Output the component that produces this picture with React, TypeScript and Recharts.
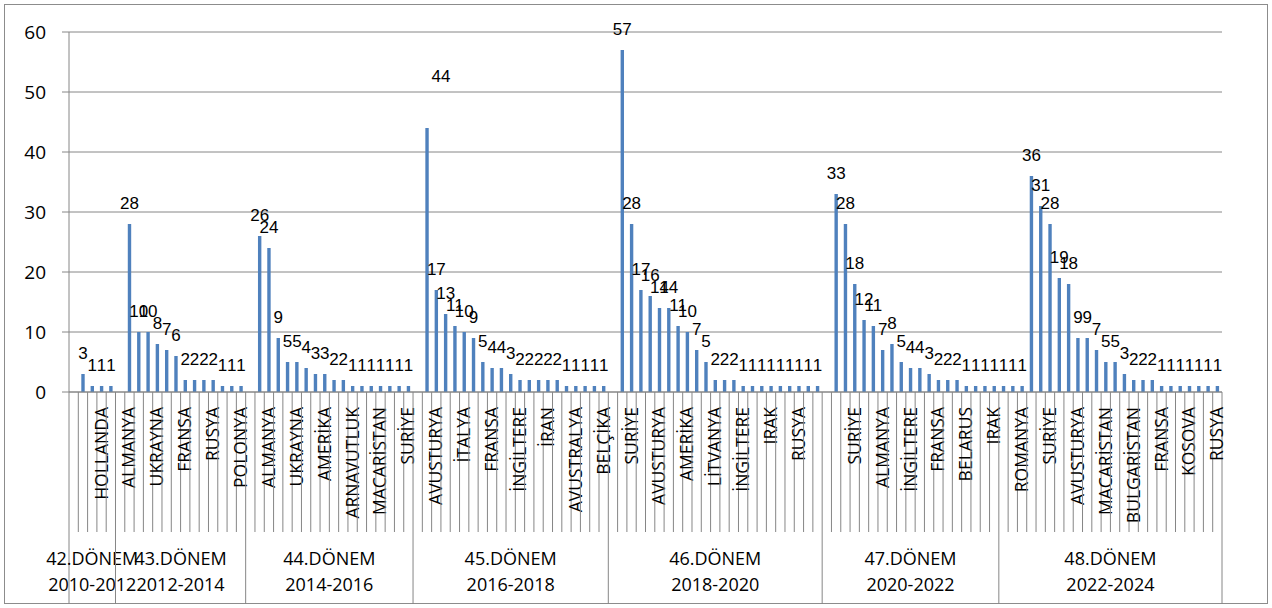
import React from "react";
import { BarChart, Bar, XAxis, YAxis, CartesianGrid, LabelList } from "recharts";

// dönem başlıkları (alt seviye eksen)
const periods = ["42.DÖNEM", "43.DÖNEM", "44.DÖNEM", "45.DÖNEM", "46.DÖNEM", "47.DÖNEM", "48.DÖNEM"];
const terms = ["2010-2012", "2012-2014", "2014-2016", "2016-2018", "2018-2020", "2020-2022", "2022-2024"];

// her dönemin değerleri (null = boş kategori)
const values42 = [null, 3, 1, 1, 1];
const values43 = [null, 28, 10, 10, 8, 7, 6, 2, 2, 2, 2, 1, 1, 1];
const values44 = [null, 26, 24, 9, 5, 5, 4, 3, 3, 2, 2, 1, 1, 1, 1, 1, 1, 1];
const values45 = [null, 44, 17, 13, 11, 10, 9, 5, 4, 4, 3, 2, 2, 2, 2, 2, 1, 1, 1, 1, 1];
const values46 = [null, 57, 28, 17, 16, 14, 14, 11, 10, 7, 5, 2, 2, 2, 1, 1, 1, 1, 1, 1, 1, 1, 1];
const values47 = [null, 33, 28, 18, 12, 11, 7, 8, 5, 4, 4, 3, 2, 2, 2, 1, 1, 1, 1];
const values48 = [1, 1, 1, 36, 31, 28, 19, 18, 9, 9, 7, 5, 5, 3, 2, 2, 2, 1, 1, 1, 1, 1, 1, 1];

// görünen ülke etiketleri (boş = etiket yok)
const names42 = ["", "", "", "HOLLANDA", ""];
const names43 = ["", "ALMANYA", "", "", "UKRAYNA", "", "", "FRANSA", "", "", "RUSYA", "", "", "POLONYA"];
const names44 = ["", "", "ALMANYA", "", "", "UKRAYNA", "", "", "AMERİKA", "", "", "ARNAVUTLUK", "", "", "MACARİSTAN", "", "", "SURİYE"];
const names45 = ["", "", "AVUSTURYA", "", "", "İTALYA", "", "", "FRANSA", "", "", "İNGİLTERE", "", "", "İRAN", "", "", "AVUSTRALYA", "", "", "BELÇİKA"];
const names46 = ["", "", "SURİYE", "", "", "AVUSTURYA", "", "", "AMERİKA", "", "", "LİTVANYA", "", "", "İNGİLTERE", "", "", "IRAK", "", "", "RUSYA", "", ""];
const names47 = ["", "", "", "SURİYE", "", "", "ALMANYA", "", "", "İNGİLTERE", "", "", "FRANSA", "", "", "BELARUS", "", "", "IRAK"];
const names48 = ["", "", "ROMANYA", "", "", "SURİYE", "", "", "AVUSTURYA", "", "", "MACARİSTAN", "", "", "BULGARİSTAN", "", "", "FRANSA", "", "", "KOSOVA", "", "", "RUSYA"];

const yTicks = [0, 10, 20, 30, 40, 50, 60];

const groupValues = [values42, values43, values44, values45, values46, values47, values48];
const groupNames = [names42, names43, names44, names45, names46, names47, names48];

const chartData = groupValues.flatMap((vals, g) =>
  vals.map((v, i) => ({ value: v, name: groupNames[g][i], group: g, pos: i, len: vals.length }))
).map((d, idx) => ({ ...d, idx }));

const CHART_W = 1272;
const CHART_H = 608;
const MARGIN = { top: 32, right: 50, bottom: 0, left: 0 };
const Y_W = 69;
const X_H = 216;
const PLOT_W = CHART_W - MARGIN.left - MARGIN.right - Y_W;
const BAND = PLOT_W / chartData.length;

const LINE = "#868686";
const FONT = "'Open Sans', sans-serif";

// elle kaydırılmış veri etiketi (45.DÖNEM, ilk çubuk)
const labelShift = (group: number, pos: number): [number, number] =>
  group === 3 && pos === 1 ? [14, -31] : [0, 0];

function CategoryTick(props: any) {
  const { x, y, payload } = props;
  const d = chartData[Number(payload.value)];
  if (!d) return null;
  const left = x - BAND / 2;
  const isStart = d.pos === 0;
  const isLast = d.idx === chartData.length - 1;
  const bottom = CHART_H - 4 - y;

  return (
    <g>
      <line x1={left} y1={y} x2={left} y2={y + (isStart ? bottom : 140)} stroke={LINE} strokeWidth={1} />
      {isLast && <line x1={left + BAND} y1={y} x2={left + BAND} y2={y + bottom} stroke={LINE} strokeWidth={1} />}
      {d.name && (
        <text
          x={x + 6}
          y={y + 15}
          transform={`rotate(-90, ${x + 6}, ${y + 15})`}
          textAnchor="end"
          fontSize={17.5}
          fontFamily={FONT}
          fill="#000"
        >
          {d.name}
        </text>
      )}
      {isStart && (
        <g>
          <text x={left + (d.len * BAND) / 2} y={y + 173} textAnchor="middle" fontSize={18} fontFamily={FONT} fill="#000">
            {periods[d.group]}
          </text>
          <text x={left + (d.len * BAND) / 2} y={y + 199} textAnchor="middle" fontSize={18} fontFamily={FONT} fill="#000">
            {terms[d.group]}
          </text>
        </g>
      )}
    </g>
  );
}

function ValueLabel(props: any) {
  const { x, y, width, value } = props;
  if (value === null || value === undefined) return null;
  const cx = x + width / 2;
  const slot = Math.floor((cx - MARGIN.left - Y_W) / BAND);
  const d = chartData[slot];
  const [dx, dy] = d ? labelShift(d.group, d.pos) : [0, 0];
  return (
    <text
      x={cx + dx}
      y={y - 15 + dy}
      textAnchor="middle"
      fontSize={17}
      fontFamily="'Liberation Sans', Arial, sans-serif"
      fill="#000"
    >
      {value}
    </text>
  );
}

export default function App() {
  return (
    <div style={{ position: "absolute", left: 0, top: 0, width: CHART_W, height: CHART_H, background: "#fff" }}>
      <div
        style={{
          position: "absolute",
          left: 4,
          top: 4,
          width: CHART_W - 8,
          height: CHART_H - 8,
          border: "1px solid #8c8c8c",
          boxSizing: "border-box",
          pointerEvents: "none",
        }}
      />
      <BarChart width={CHART_W} height={CHART_H} data={chartData} margin={MARGIN} barCategoryGap={0}>
        <CartesianGrid vertical={false} stroke={LINE} />
        <XAxis
          dataKey="idx"
          type="category"
          interval={0}
          height={X_H}
          tick={<CategoryTick />}
          tickLine={false}
          tickSize={0}
          tickMargin={0}
          axisLine={{ stroke: LINE }}
        />
        <YAxis
          width={Y_W}
          domain={[0, 60]}
          ticks={yTicks}
          interval={0}
          tickSize={7}
          tickMargin={16}
          tick={{ fill: "#000", fontSize: 19, fontFamily: FONT }}
          axisLine={{ stroke: LINE }}
          tickLine={{ stroke: LINE }}
        />
        <Bar dataKey="value" fill="#4F81BD" barSize={3.4} isAnimationActive={false}>
          <LabelList dataKey="value" content={<ValueLabel />} />
        </Bar>
      </BarChart>
    </div>
  );
}
